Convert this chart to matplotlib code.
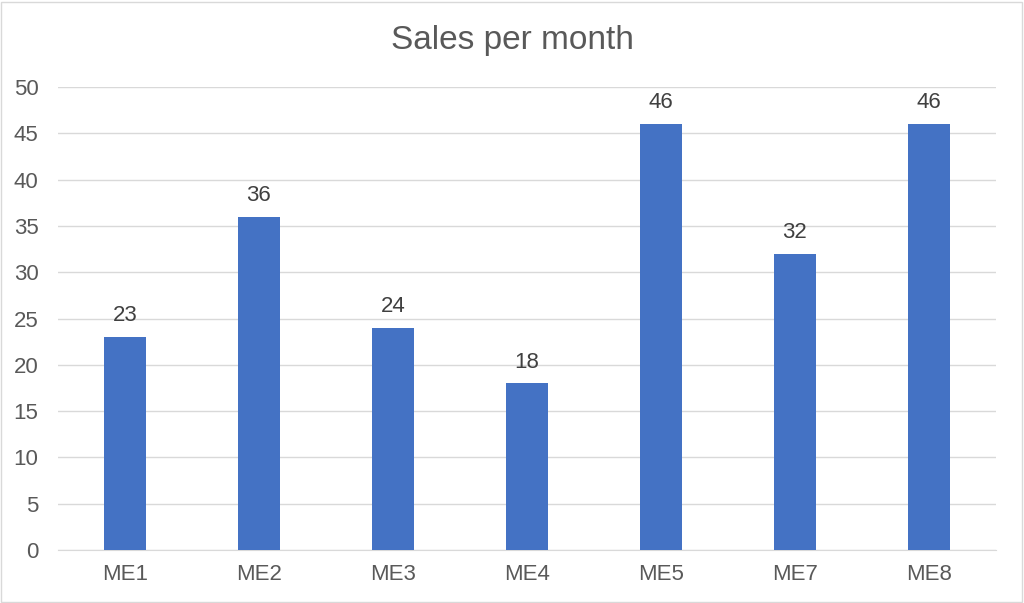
import matplotlib.pyplot as plt
from matplotlib.patches import Rectangle

plt.rcParams['font.family'] = ['Liberation Sans', 'DejaVu Sans']

# Datos
months = ['ME1', 'ME2', 'ME3', 'ME4', 'ME5', 'ME7', 'ME8']
sales = [23, 36, 24, 18, 46, 32, 46]

BAR_COLOR = '#4472C4'
TEXT_COLOR = '#595959'
GRID_COLOR = '#D9D9D9'

fig = plt.figure(figsize=(10.24, 6.03), dpi=100)
ax = fig.add_axes([0.0566, 0.0879, 0.916, 0.7678])

x = range(len(months))
bars = ax.bar(x, sales, width=0.314, color=BAR_COLOR, zorder=3)

for xi, v in zip(x, sales):
    ax.text(xi, v + 2.3, str(v), ha='center', va='center',
            fontsize=16, color='#404040')

ax.set_xlim(-0.5, len(months) - 0.5)
ax.set_ylim(0, 50)
ax.set_yticks(range(0, 51, 5))
ax.set_xticks(list(x))
ax.set_xticklabels(months)
ax.tick_params(axis='both', length=0, labelsize=16, labelcolor=TEXT_COLOR)
ax.tick_params(axis='y', pad=14)
ax.tick_params(axis='x', pad=10)

ax.grid(axis='y', color=GRID_COLOR, linewidth=1, zorder=0)
for side in ['top', 'right', 'left']:
    ax.spines[side].set_visible(False)
ax.spines['bottom'].set_color(GRID_COLOR)

fig.text(0.5, 1 - 40 / 603, 'Sales per month', ha='center', va='center',
         fontsize=24, color=TEXT_COLOR)

# Borde del gráfico
fig.patches.append(Rectangle((0.001, 0.002), 0.997, 0.995, transform=fig.transFigure,
                             fill=False, edgecolor='#D9D9D9', linewidth=1))

fig.savefig('out.png', dpi=100)
